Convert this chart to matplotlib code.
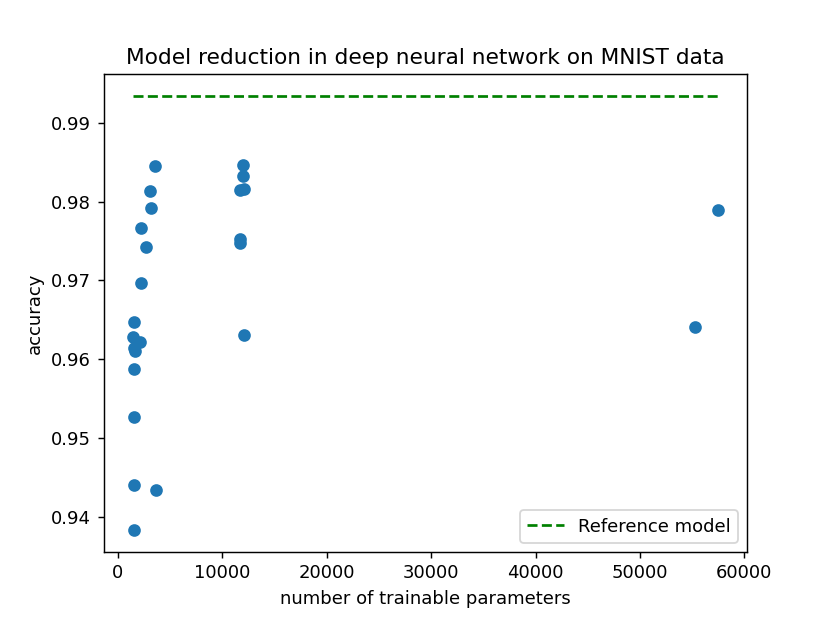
import matplotlib
matplotlib.use("Agg")
import matplotlib.pyplot as plt
import numpy as np

# number of trainable parameters of each reduced model
n_params = [3570, 3130, 3160, 2270, 2740, 2270, 1560, 1460, 2130, 1560,
            1620, 1560, 1560, 1560, 3630, 1530,
            12000, 11980, 11660, 12050, 11710, 11710, 12080,
            57450, 55260]
# test accuracy of each reduced model
acc = [0.9845, 0.9813, 0.9792, 0.9766, 0.9742, 0.9697, 0.9647, 0.9628, 0.9622, 0.9614,
       0.9611, 0.9587, 0.9527, 0.9440, 0.9434, 0.9383,
       0.9847, 0.9833, 0.9815, 0.9816, 0.9752, 0.9748, 0.9631,
       0.9789, 0.9641]

# accuracy of the full model
ref_acc = 0.9934

fig = plt.figure(figsize=(8.3 / 1.3, 6.2 / 1.3), dpi=130)

plt.scatter(n_params, acc)
plt.plot([min(n_params), max(n_params)], [ref_acc, ref_acc], 'g--', label='Reference model')

plt.xlabel("number of trainable parameters")
plt.ylabel("accuracy")
plt.title("Model reduction in deep neural network on MNIST data")
plt.legend(loc='lower right')

plt.savefig("out.png", dpi=130)
